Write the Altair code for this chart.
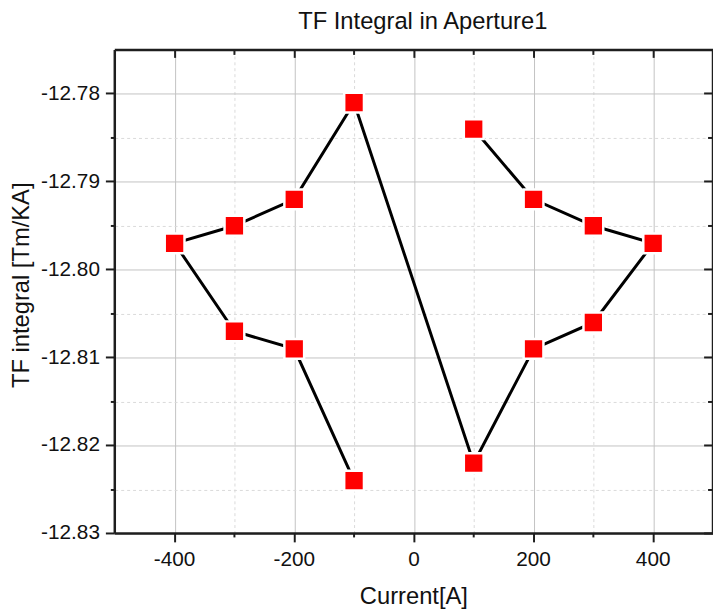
import altair as alt
import pandas as pd

# Data (path order as drawn)
current = [-100, -200, -300, -400, -300, -200, -100, 100, 200, 300, 400, 300, 200, 100]
tf_integral = [-12.824, -12.809, -12.807, -12.797, -12.795, -12.792, -12.781,
               -12.822, -12.809, -12.806, -12.797, -12.795, -12.792, -12.784]

x_major = [-400, -200, 0, 200, 400]
x_minor = [-300, -100, 100, 300]
y_major = [-12.83, -12.82, -12.81, -12.80, -12.79, -12.78]
y_minor = [-12.825, -12.815, -12.805, -12.795, -12.785]

df = pd.DataFrame({"current": current, "tf": tf_integral, "order": list(range(len(current)))})

FONT = "Liberation Sans"
TICK = "#1e1e1e"
FRAME = "#1e1e1e"


def xs():
    return alt.Scale(domain=[-500, 500], nice=False, zero=False)


def ys():
    return alt.Scale(domain=[-12.83, -12.775], nice=False, zero=False)


base = alt.Chart(df)
hy = "replace(datum.label, '\u2212', '-')"


def hidden_layer(xaxis, yaxis):
    return base.mark_point(opacity=0).encode(
        x=alt.X("current:Q", scale=xs(), axis=xaxis),
        y=alt.Y("tf:Q", scale=ys(), axis=yaxis),
    )


def tick_axis(orient, values, size, offset=0):
    return alt.Axis(orient=orient, values=values, labels=False, title=None,
                    domain=False, grid=False, offset=offset, tickSize=size,
                    tickWidth=2, tickColor=TICK, translate=0)


# Grid lines
grid_minor = hidden_layer(
    alt.Axis(orient="bottom", values=x_minor, labels=False, ticks=False, title=None,
             domain=False, grid=True, gridColor="#dadada", gridDash=[3, 3], gridWidth=1),
    alt.Axis(orient="left", values=y_minor, labels=False, ticks=False, title=None,
             domain=False, grid=True, gridColor="#dadada", gridDash=[3, 3], gridWidth=1),
)
grid_major = hidden_layer(
    alt.Axis(orient="bottom", values=x_major, labels=False, ticks=False, title=None,
             domain=False, grid=True, gridColor="#c2c2c2", gridWidth=1),
    alt.Axis(orient="left", values=y_major, labels=False, ticks=False, title=None,
             domain=False, grid=True, gridColor="#c2c2c2", gridWidth=1),
)

# Outward minor ticks bottom / left
ticks_minor = hidden_layer(tick_axis("bottom", x_minor, 4), tick_axis("left", y_minor, 4))

# Main axes with labels and titles
main_axes = hidden_layer(
    alt.Axis(orient="bottom", values=x_major, title="Current[A]",
             domain=True, domainColor=FRAME, domainWidth=2.5,
             tickSize=9, tickWidth=2, tickColor=TICK, translate=0,
             labelFont=FONT, labelFontSize=21, labelColor="#111", labelPadding=7,
             labelExpr=hy,
             titleFont=FONT, titleFontSize=24, titleFontWeight="normal", titleColor="#111",
             titlePadding=15, grid=False),
    alt.Axis(orient="left", values=y_major, title="TF integral [Tm/KA]",
             domain=True, domainColor=FRAME, domainWidth=2.5,
             tickSize=9, tickWidth=2, tickColor=TICK, translate=0, format=".2f",
             labelFont=FONT, labelFontSize=21, labelColor="#111", labelPadding=6,
             labelExpr=hy,
             titleFont=FONT, titleFontSize=24, titleFontWeight="normal", titleColor="#111",
             titlePadding=7, titleY=238, grid=False),
)

# Inward ticks on top / right (mirrored frame)
mirror_major = hidden_layer(tick_axis("top", x_major, 8, -8), tick_axis("right", y_major, 9, -9))
mirror_minor = hidden_layer(tick_axis("top", x_minor, 5, -5), tick_axis("right", y_minor, 5, -5))

# Top / right frame lines
frame = hidden_layer(
    alt.Axis(orient="top", labels=False, ticks=False, title=None, grid=False,
             domain=True, domainColor=FRAME, domainWidth=2.5, translate=0),
    alt.Axis(orient="right", labels=False, ticks=False, title=None, grid=False,
             domain=True, domainColor=FRAME, domainWidth=2.5, translate=0),
)

line = base.mark_line(color="black", strokeWidth=3).encode(
    x=alt.X("current:Q", scale=xs(), axis=None),
    y=alt.Y("tf:Q", scale=ys(), axis=None),
    order="order:Q",
)

points = base.mark_square(size=400, color="#ff0000", opacity=1,
                          stroke="white", strokeWidth=2.5).encode(
    x=alt.X("current:Q", scale=xs(), axis=None),
    y=alt.Y("tf:Q", scale=ys(), axis=None),
)

chart = alt.layer(
    grid_minor, grid_major, ticks_minor, main_axes, mirror_major, mirror_minor, frame,
    line, points
).resolve_scale(
    x="independent", y="independent"
).properties(
    width=605,
    height=489,
    background="white",
    title=alt.TitleParams("TF Integral in Aperture1", font=FONT, fontSize=24,
                          fontWeight="normal", color="#111", anchor="middle",
                          offset=15, dx=9),
    autosize=alt.AutoSizeParams(type="none"),
    padding={"left": 108, "top": 39, "right": 0, "bottom": 76},
).configure_view(
    strokeWidth=0
)

chart.save("out.html", embed_options={"renderer": "svg", "actions": False})
